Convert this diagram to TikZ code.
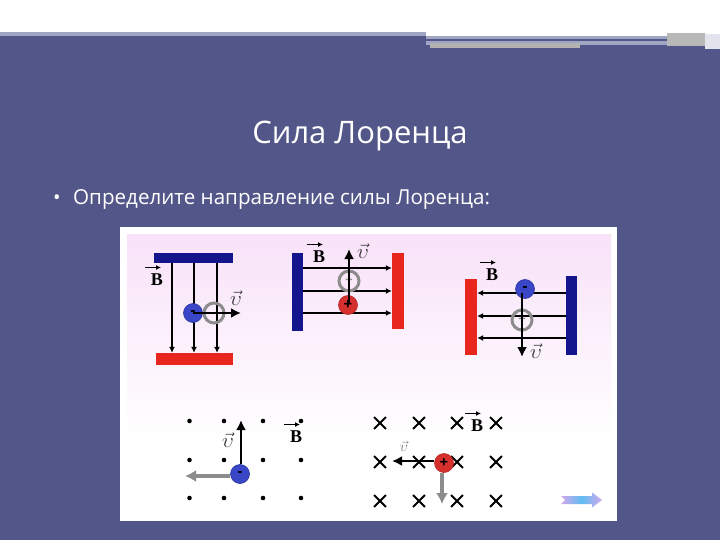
\documentclass[tikz,border=0pt]{standalone}
\usepackage{fontspec}
\setmainfont{Open Sans}
\newfontfamily\serifb{Liberation Serif}
\usetikzlibrary{arrows.meta,shapes.misc}
\definecolor{slide}{HTML}{535688}
\definecolor{barblue}{HTML}{14148C}
\definecolor{barred}{HTML}{E8261E}
\definecolor{ballblue}{HTML}{3A46C8}
\definecolor{ballred}{HTML}{D5302E}
\definecolor{ghost}{HTML}{8C8C8C}
\definecolor{band}{HTML}{A0A5C4}
\definecolor{panelpink}{HTML}{F8E2F8}
\definecolor{navpink}{HTML}{D4A8EC}
\definecolor{navblue}{HTML}{5FBCF0}
\tikzset{
  bar/.style={rectangle,draw=none,inner sep=0pt,minimum width=#1},
  bluebar/.style={fill=barblue},
  redbar/.style={fill=barred},
  fieldline/.style={draw=black,line width=1.5pt,-{Latex[length=6pt,width=6pt]}},
  speed/.style={draw=black,line width=2.4pt,-{Latex[length=10pt,width=10pt]}},
  force/.style={draw=ghost,line width=3.6pt,-{Latex[length=11pt,width=12pt]}},
  ball/.style={circle,minimum size=#1,inner sep=0pt,font=\bfseries\fontsize{15}{15}\selectfont,text=black},
  blueball/.style={ball=19pt,fill=ballblue,draw=ballblue!75!black,line width=.6pt},
  redball/.style={ball=19pt,fill=ballred,draw=ballred!85!black,line width=.6pt},
  ghostball/.style={circle,minimum size=20pt,inner sep=0pt,draw=ghost,line width=3pt,text=ghost,font=\bfseries\fontsize{13}{13}\selectfont},
  blab/.style={font=\serifb\bfseries\fontsize{18}{18}\selectfont,inner sep=0pt},
  bline/.style={draw=black,line width=1.4pt,-{Latex[length=5pt,width=5pt]}},
  vlab/.style={font=\fontsize{20}{20}\selectfont,inner sep=0pt,text=black!80},
  fielddot/.style={circle,fill=black,minimum size=4.6pt,inner sep=0pt},
  fieldcross/.style={cross out,draw=black,line width=1.8pt,minimum size=10pt,inner sep=0pt},
}
\newcommand{\blabel}[3]{%
  \node[blab] (#1) at (#2,#3) {B};
  \coordinate (#1a) at (#2-12,#3-12.5);
  \coordinate (#1b) at (#2+4,#3-12.5);
  \draw[bline] (#1a) -- (#1b);
}
\newcommand{\vvec}{$\vec{\upsilon}$}
\begin{document}
\begin{tikzpicture}[x=1pt,y=-1pt]
\useasboundingbox (0,0) rectangle (720,540);
% slide background and header
\fill[slide] (0,0) rectangle (720,540);
\fill[white] (0,0) rectangle (720,32);
\fill[white] (426,32) rectangle (720,36);
\fill[band] (0,32) rectangle (426,36);
\fill[band] (426,36) rectangle (667,39);
\fill[band] (426,41) rectangle (697,45);
\fill[black!30!white] (430,43) rectangle (580,48);
\fill[black!28!white] (667,33) rectangle (705,46);
\fill[band!30!white] (705,34) rectangle (720,49);
% texts
\node[inner sep=0pt,font=\fontsize{31}{36}\selectfont,text=white] (title) at (360,136) {Сила Лоренца};
\node[inner sep=0pt,font=\fontsize{20}{24}\selectfont,text=white,anchor=west] (bullet) at (53,199.5) {•};
\node[inner sep=0pt,font=\fontsize{20.6}{24}\selectfont,text=white,anchor=west] (task) at (73,199.5) {Определите направление силы Лоренца:};
% picture panel
\fill[white] (120,227) rectangle (617,521);
\shade[top color=panelpink,bottom color=white] (127,234) rectangle (611,440);
\fill[white] (127,440) rectangle (611,514);

% diagram 1
\node[bar=79pt,bluebar,minimum height=10pt] (b1) at (193.5,258) {};
\node[bar=77pt,redbar,minimum height=12pt] (r1) at (194.5,359) {};
\foreach \x in {172,194,217} \draw[fieldline] (\x,0 |- b1.south) -- (\x,0 |- r1.north);
\node[blueball] (q1) at (193,313) {-};
\node[ghostball] (g1) at (214,313) {};
\coordinate (v1) at (241,313);
\draw[speed] (q1.center) -- (v1);
\blabel{lb1}{157}{280}
\node[vlab] (lv1) at (236,298) {\vvec};

% diagram 2
\node[bar=11pt,bluebar,minimum height=78pt] (b2) at (297.5,292) {};
\node[bar=12pt,redbar,minimum height=76pt] (r2) at (398,291) {};
\foreach \y in {268,291,313} \draw[fieldline] (b2.east |- 0,\y) -- (r2.west |- 0,\y);
\node[ghostball] (g2) at (349,281) {+};
\node[redball] (q2) at (348,305) {+};
\coordinate (v2) at (349,249);
\draw[speed] (349,304) -- (v2);
\blabel{lb2}{319}{257}
\node[vlab] (lv2) at (363,251) {\vvec};

% diagram 3
\node[bar=12pt,redbar,minimum height=76pt] (r3) at (471,317) {};
\node[bar=11pt,bluebar,minimum height=79pt] (b3) at (571.5,315.5) {};
\foreach \y in {293,316,338} \draw[fieldline] (b3.west |- 0,\y) -- (r3.east |- 0,\y);
\node[ghostball] (g3) at (522,320) {+};
\node[blueball] (q3) at (525,289) {-};
\coordinate (v3) at (522,357);
\draw[speed] (522,293) -- (v3);
\blabel{lb3}{492}{275}
\node[vlab] (lv3) at (536,351) {\vvec};

% diagram 4
\foreach \y [count=\j] in {421,460,498}
  \foreach \x [count=\i] in {189.5,224,263,301}
    \node[fielddot] (d\j\i) at (\x,\y) {};
\node[blueball] (q4) at (240,474) {-};
\coordinate (v4) at (241,420);
\coordinate (f4) at (185,476);
\draw[speed] (v4 |- q4.north) -- (v4);
\draw[force] (q4.west |- f4) -- (f4);
\node[vlab] (lv4) at (228,440) {\vvec};
\blabel{lb4}{296}{437}

% diagram 5
\foreach \y [count=\j] in {423,462,501}
  \foreach \x [count=\i] in {380,419,457,496}
    \node[fieldcross] (c\j\i) at (\x,\y) {};
\blabel{lb5}{477}{426}
\coordinate (v5) at (392,461);
\coordinate (f5) at (442,504);
\node[redball] (q5) at (444,463) {+};
\draw[speed] (q5.west |- v5) -- (v5);
\draw[force] (f5 |- q5.south) -- (f5);
\node[vlab,font=\fontsize{15}{15}\selectfont,text=black!55] (lv5) at (404,446) {\vvec};

% navigation arrow
\shade[left color=navpink,right color=navpink,middle color=navblue]
  (561,496) -- (592,496) -- (592,492.5) -- (602,500) -- (592,507.5) -- (592,504) -- (561,504) -- (565,500) -- cycle;
\end{tikzpicture}
\end{document}
